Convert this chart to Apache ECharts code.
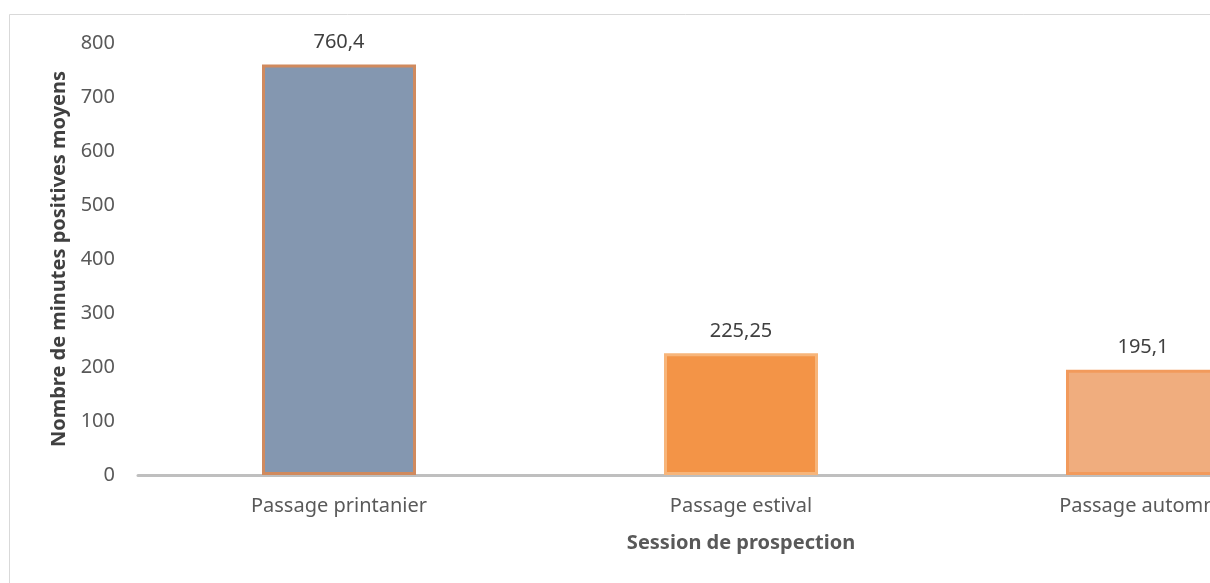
<!DOCTYPE html>
<html><head><meta charset="utf-8">
<script src="https://cdn.jsdelivr.net/npm/echarts@6/dist/echarts.min.js"></script>
<style>html,body{margin:0;padding:0;background:#fff;overflow:hidden;width:1210px;height:583px}#c{width:1360px;height:583px}</style>
</head><body><div id="c"></div>
<script>
const categories = ['Passage printanier', 'Passage estival', 'Passage automne'];
const values = [760.4, 225.25, 195.1];
const barColors = ['#8497B0', '#F39447', '#F0AD7E'];
const barBorders = ['#D08A5E', '#F7B57A', '#F29A5C'];
const yTicks = {min: 0, max: 800, interval: 100};
const yTitle = 'Nombre de minutes positives moyens';
const xTitle = 'Session de prospection';

const FONT = 'Noto Sans';
const chart = echarts.init(document.getElementById('c'));
chart.setOption({
  animation: false,
  backgroundColor: '#fff',
  graphic: [{type: 'rect', shape: {x: 9.5, y: 14.5, width: 1400, height: 700},
    style: {fill: 'none', stroke: '#D9D9D9', lineWidth: 1}, silent: true}],
  grid: {left: 138, width: 1206, top: 43, height: 432, containLabel: false, outerBoundsMode: 'none'},
  xAxis: {
    type: 'category', data: categories,
    axisLine: {lineStyle: {color: '#BFBFBF', width: 3}},
    axisTick: {show: false},
    axisLabel: {color: '#595959', fontSize: 20, fontFamily: FONT, margin: 21},
    name: xTitle, nameLocation: 'middle', nameGap: 58,
    nameTextStyle: {color: '#595959', fontSize: 20, fontWeight: 'bold', fontFamily: FONT}
  },
  yAxis: {
    type: 'value', min: yTicks.min, max: yTicks.max, interval: yTicks.interval,
    axisLine: {show: false}, axisTick: {show: false}, splitLine: {show: false},
    axisLabel: {color: '#595959', fontSize: 20, fontFamily: FONT, margin: 23},
    name: yTitle, nameLocation: 'middle', nameGap: 69,
    nameTextStyle: {color: '#404040', fontSize: 20, fontWeight: 'bold', fontFamily: FONT}
  },
  series: [{
    type: 'bar', barWidth: 154,
    data: values.map((v, i) => ({value: v, itemStyle: {color: barColors[i], borderColor: barBorders[i], borderWidth: 3}})),
    label: {show: true, position: 'top', distance: 12, color: '#404040', fontSize: 20, fontFamily: FONT,
      formatter: p => String(p.value).replace('.', ',')}
  }]
});
</script></body></html>
